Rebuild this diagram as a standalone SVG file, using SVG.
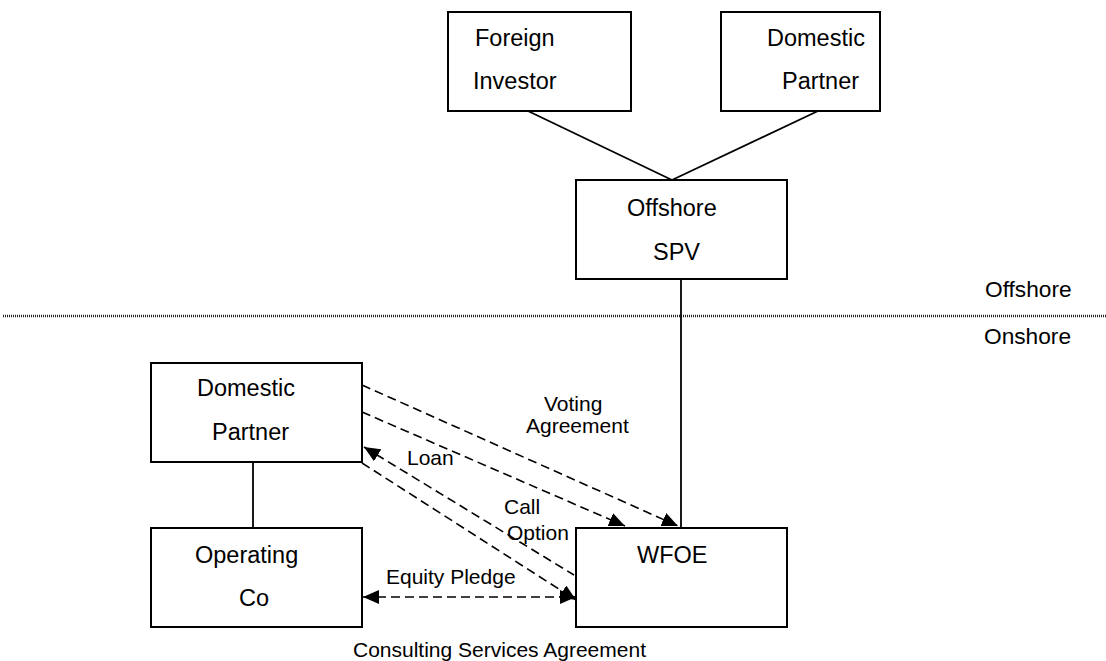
<svg xmlns="http://www.w3.org/2000/svg" width="1106" height="661" viewBox="0 0 1106 661">
<style>
.box{fill:#fff;stroke:#000;stroke-width:2}
.t{font-family:"Liberation Sans",Arial,sans-serif;font-size:23.5px;fill:#000}
.l{font-family:"Liberation Sans",Arial,sans-serif;font-size:21px;fill:#000}
.s{font-family:"Liberation Sans",Arial,sans-serif;font-size:22.7px;fill:#000}
.solid{stroke:#000;stroke-width:1.8;fill:none}
.dash{stroke:#000;stroke-width:1.6;fill:none;stroke-dasharray:9 5}
</style>
<defs>
<marker id="ah" markerUnits="userSpaceOnUse" markerWidth="17" markerHeight="14" refX="16" refY="7" orient="auto-start-reverse">
<path d="M0,0 L16,7 L0,14 z" fill="#000"/>
</marker>
</defs>
<line x1="3" y1="316" x2="1106" y2="316" stroke="#222" stroke-width="2.5" stroke-dasharray="1 1"/>
<g id="connectors">
<line class="solid" x1="528" y1="111" x2="672" y2="180"/>
<line class="solid" x1="818" y1="111" x2="672" y2="180"/>
<line class="solid" x1="681" y1="279" x2="681" y2="528"/>
<line class="solid" x1="253" y1="462" x2="253" y2="528"/>
<line class="dash" x1="362" y1="385" x2="678" y2="526" marker-end="url(#ah)"/>
<line class="dash" x1="362" y1="412" x2="625" y2="526" marker-end="url(#ah)"/>
<line class="dash" x1="364" y1="447" x2="574" y2="575" marker-start="url(#ah)"/>
<line class="dash" x1="362" y1="463" x2="576" y2="600" marker-end="url(#ah)"/>
<line class="dash" x1="363" y1="597" x2="576" y2="597" marker-start="url(#ah)" marker-end="url(#ah)"/>
</g>
<g id="foreign-investor">
<rect class="box" x="448" y="12" width="183" height="99"/>
<text class="t" x="475" y="46">Foreign</text>
<text class="t" x="473" y="89">Investor</text>
</g>
<g id="domestic-partner-offshore">
<rect class="box" x="721" y="12" width="159" height="99"/>
<text class="t" x="767" y="46">Domestic</text>
<text class="t" x="782" y="89">Partner</text>
</g>
<g id="offshore-spv">
<rect class="box" x="576" y="180" width="211" height="99"/>
<text class="t" x="627" y="216">Offshore</text>
<text class="t" x="653" y="260">SPV</text>
</g>
<g id="domestic-partner">
<rect class="box" x="151" y="363" width="211" height="99"/>
<text class="t" x="197" y="396">Domestic</text>
<text class="t" x="212" y="440">Partner</text>
</g>
<g id="operating-co">
<rect class="box" x="151" y="528" width="211" height="99"/>
<text class="t" x="195" y="563">Operating</text>
<text class="t" x="239" y="606">Co</text>
</g>
<g id="wfoe">
<rect class="box" x="576" y="528" width="211" height="99"/>
<text class="t" x="637" y="563">WFOE</text>
</g>
<g id="labels">
<text class="l" x="544" y="411">Voting</text>
<text class="l" x="526" y="433">Agreement</text>
<text class="l" x="407" y="465">Loan</text>
<text class="l" x="504" y="514">Call</text>
<text class="l" x="507" y="540">Option</text>
<text class="l" x="386" y="584">Equity Pledge</text>
<text class="l" x="353" y="657">Consulting Services Agreement</text>
<text class="s" x="985" y="297">Offshore</text>
<text class="s" x="984" y="344">Onshore</text>
</g>
</svg>
